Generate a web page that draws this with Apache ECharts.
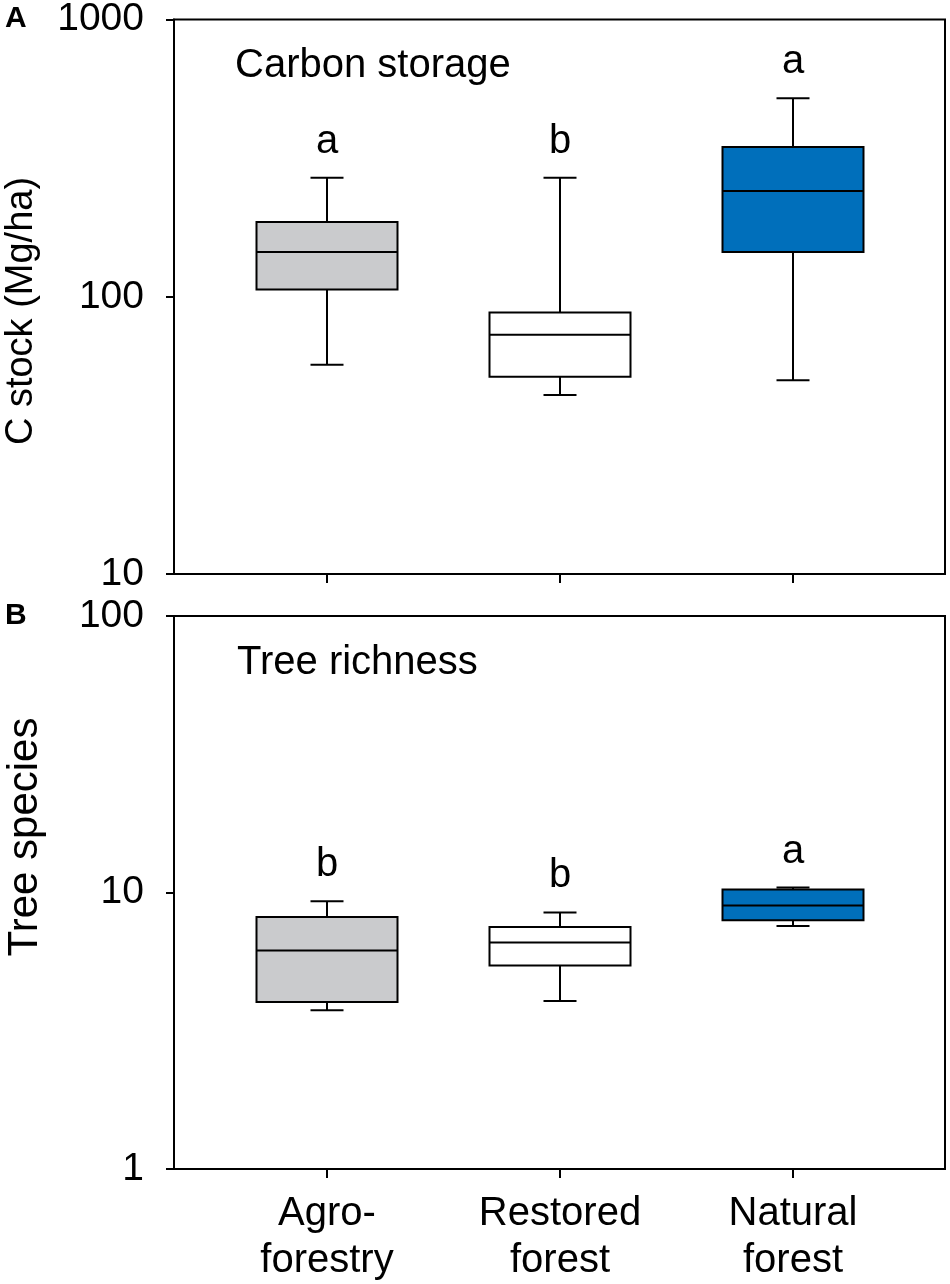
<!DOCTYPE html>
<html>
<head>
<meta charset="utf-8">
<script src="https://cdn.jsdelivr.net/npm/echarts@6/dist/echarts.min.js"></script>
<style>
html,body{margin:0;padding:0;background:#fff;}
#chart{width:950px;height:1284px;}
</style>
</head>
<body>
<div id="chart"></div>
<script>
// ---- data ----
var categories = ['Agro-\nforestry', 'Restored\nforest', 'Natural\nforest'];
var categoryPos = [1, 2, 3];
// [min, q1, median, q3, max]
var carbonStock = [
  [56.8, 106.2, 145, 186, 268.7],
  [44.2, 51.5, 73, 87.8, 268.7],
  [50, 145, 240.6, 347, 519.6]
];
var treeSpecies = [
  [3.75, 4.02, 6.17, 8.15, 9.30],
  [4.05, 5.45, 6.59, 7.50, 8.47],
  [7.56, 7.93, 8.98, 10.25, 10.42]
];
var lettersA = ['a', 'b', 'a'];
var lettersB = ['b', 'b', 'a'];
var fillColors = ['#cacbcd', '#ffffff', '#006fbb'];
var yTicksA = [10, 100, 1000];
var yTicksB = [1, 10, 100];

var FONT = '"Liberation Sans", Arial, sans-serif';

function buildData(stats) {
  return stats.map(function (s, i) {
    return [categoryPos[i], s[0], s[1], s[2], s[3], s[4], i];
  });
}

function renderBox(letters) {
  return function (params, api) {
    var x = api.value(0);
    var idx = api.value(6);
    var pMin = api.coord([x, api.value(1)]);
    var pQ1 = api.coord([x, api.value(2)]);
    var pMed = api.coord([x, api.value(3)]);
    var pQ3 = api.coord([x, api.value(4)]);
    var pMax = api.coord([x, api.value(5)]);
    var cx = pMed[0];
    var hw = 70.5, cw = 16.5;
    var ls = {stroke: '#000', lineWidth: 2};
    return {
      type: 'group',
      children: [
        {type: 'line', shape: {x1: cx, y1: pMax[1], x2: cx, y2: pQ3[1]}, style: ls},
        {type: 'line', shape: {x1: cx, y1: pQ1[1], x2: cx, y2: pMin[1]}, style: ls},
        {type: 'line', shape: {x1: cx - cw, y1: pMax[1], x2: cx + cw, y2: pMax[1]}, style: ls},
        {type: 'line', shape: {x1: cx - cw, y1: pMin[1], x2: cx + cw, y2: pMin[1]}, style: ls},
        {type: 'rect', shape: {x: cx - hw, y: pQ3[1], width: 2 * hw, height: pQ1[1] - pQ3[1]},
          style: {fill: fillColors[idx], stroke: '#000', lineWidth: 2}},
        {type: 'line', shape: {x1: cx - hw, y1: pMed[1], x2: cx + hw, y2: pMed[1]}, style: ls},
        {type: 'text', x: cx, y: pMax[1] - 16,
          style: {text: letters[idx], fill: '#000', fontSize: 40, fontFamily: FONT, align: 'center', verticalAlign: 'bottom'}}
      ]
    };
  };
}

var xMin = 1 - 153 / 233;
var xMax = xMin + 771 / 233;

function xAxisCfg(gridIndex, showLabels) {
  return {
    type: 'value', gridIndex: gridIndex, min: xMin, max: xMax,
    axisLine: {show: true, lineStyle: {color: '#000', width: 2}},
    axisTick: {show: true, length: 9, customValues: categoryPos, lineStyle: {color: '#000', width: 2}},
    axisLabel: {
      show: showLabels, customValues: categoryPos, margin: 21,
      fontSize: 40, fontFamily: FONT, color: '#000', lineHeight: 47,
      formatter: function (v) { return categories[Math.round(v) - 1] || ''; }
    },
    splitLine: {show: false}
  };
}

function yAxisCfg(gridIndex, mn, mx) {
  return {
    type: 'log', logBase: 10, gridIndex: gridIndex, min: mn, max: mx, interval: 1,
    axisLine: {show: true, lineStyle: {color: '#000', width: 2}},
    axisTick: {show: true, length: 8, lineStyle: {color: '#000', width: 2}},
    minorTick: {show: false},
    axisLabel: {
      margin: 30, fontSize: 39, fontFamily: FONT, color: '#000',
      formatter: function (v) { return String(Math.round(v)); }
    },
    splitLine: {show: false}
  };
}

var chart = echarts.init(document.getElementById('chart'), null, {renderer: 'canvas'});
chart.setOption({
  animation: false,
  backgroundColor: '#fff',
  grid: [
    {left: 174, top: 18, width: 771, height: 556, show: true, borderColor: '#000', borderWidth: 2, containLabel: false},
    {left: 174, top: 616, width: 771, height: 556, show: true, borderColor: '#000', borderWidth: 2, containLabel: false}
  ],
  xAxis: [xAxisCfg(0, false), xAxisCfg(1, true)],
  yAxis: [yAxisCfg(0, yTicksA[0], yTicksA[2]), yAxisCfg(1, yTicksB[0], yTicksB[2])],
  graphic: [
    {type: 'text', x: 5, y: 19, style: {text: 'A', fontSize: 30, fontWeight: 'bold', fontFamily: FONT, fill: '#000', verticalAlign: 'middle'}},
    {type: 'text', x: 5, y: 616, style: {text: 'B', fontSize: 30, fontWeight: 'bold', fontFamily: FONT, fill: '#000', verticalAlign: 'middle'}},
    {type: 'text', x: 235, y: 66, style: {text: 'Carbon storage', fontSize: 40, fontFamily: FONT, fill: '#000', verticalAlign: 'middle'}},
    {type: 'text', x: 237, y: 663, style: {text: 'Tree richness', fontSize: 40, fontFamily: FONT, fill: '#000', verticalAlign: 'middle'}},
    {type: 'text', x: 22, y: 311, rotation: Math.PI / 2,
      style: {text: 'C stock (Mg/ha)', fontSize: 38, fontFamily: FONT, fill: '#000', align: 'center', verticalAlign: 'middle'}},
    {type: 'text', x: 25, y: 837, rotation: Math.PI / 2,
      style: {text: 'Tree species', fontSize: 42, fontFamily: FONT, fill: '#000', align: 'center', verticalAlign: 'middle'}}
  ],
  series: [
    {type: 'custom', xAxisIndex: 0, yAxisIndex: 0, renderItem: renderBox(lettersA),
      encode: {x: 0, y: [1, 2, 3, 4, 5]}, data: buildData(carbonStock), clip: false},
    {type: 'custom', xAxisIndex: 1, yAxisIndex: 1, renderItem: renderBox(lettersB),
      encode: {x: 0, y: [1, 2, 3, 4, 5]}, data: buildData(treeSpecies), clip: false}
  ]
});
</script>
</body>
</html>
